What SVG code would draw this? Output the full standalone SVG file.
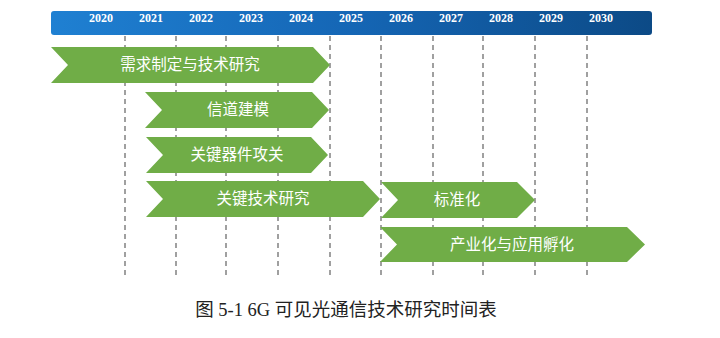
<svg xmlns="http://www.w3.org/2000/svg" width="720" height="338" viewBox="0 0 720 338">
<defs>
<linearGradient id="hdr" x1="0" y1="0" x2="1" y2="0">
<stop offset="0" stop-color="#1f80d2"/>
<stop offset="0.5" stop-color="#1566b5"/>
<stop offset="1" stop-color="#0c4a86"/>
</linearGradient>
<style>
.yr{font-family:"Liberation Serif",serif;font-weight:bold;font-size:12px;fill:#fff;text-anchor:middle}
.grid{stroke:#6e6e6e;stroke-width:1.3;stroke-dasharray:5,4;fill:none}
.chev{fill:#70ad47}
.lbl{font-family:"Noto Sans CJK SC",sans-serif;font-size:15.5px;fill:#fff;text-anchor:middle}
.cap{font-family:"Liberation Serif","Noto Sans CJK SC",serif;font-size:18.5px;fill:#222;text-anchor:middle}
</style>
</defs>
<rect width="720" height="338" fill="#fff"/>
<g id="header">
<rect x="51" y="11" width="601" height="24" rx="3" fill="url(#hdr)"/>
<text class="yr" x="101" y="22">2020</text>
<text class="yr" x="151" y="22">2021</text>
<text class="yr" x="201" y="22">2022</text>
<text class="yr" x="251" y="22">2023</text>
<text class="yr" x="301" y="22">2024</text>
<text class="yr" x="351" y="22">2025</text>
<text class="yr" x="401" y="22">2026</text>
<text class="yr" x="451" y="22">2027</text>
<text class="yr" x="501" y="22">2028</text>
<text class="yr" x="551" y="22">2029</text>
<text class="yr" x="601" y="22">2030</text>
</g>
<g id="connectors">
<line class="grid" x1="125" y1="36" x2="125" y2="278"/>
<line class="grid" x1="176" y1="36" x2="176" y2="278"/>
<line class="grid" x1="226" y1="36" x2="226" y2="278"/>
<line class="grid" x1="278" y1="36" x2="278" y2="278"/>
<line class="grid" x1="330" y1="36" x2="330" y2="278"/>
<line class="grid" x1="381" y1="36" x2="381" y2="278"/>
<line class="grid" x1="433" y1="36" x2="433" y2="278"/>
<line class="grid" x1="483" y1="36" x2="483" y2="278"/>
<line class="grid" x1="535" y1="36" x2="535" y2="278"/>
<line class="grid" x1="587" y1="36" x2="587" y2="278"/>
</g>
<g id="n1">
<polygon class="chev" points="51,47 313,47 330,65 313,83 51,83 68,65"/>
<text class="lbl" x="190" y="70">需求制定与技术研究</text>
</g>
<g id="n2">
<polygon class="chev" points="145,92 312,92 329,110 312,128 145,128 162,110"/>
<text class="lbl" x="238" y="115">信道建模</text>
</g>
<g id="n3">
<polygon class="chev" points="146,137 311,137 328,155 311,173 146,173 163,155"/>
<text class="lbl" x="237" y="160">关键器件攻关</text>
</g>
<g id="n4">
<polygon class="chev" points="146,181 363,181 380,199 363,217 146,217 163,199"/>
<text class="lbl" x="263" y="204">关键技术研究</text>
</g>
<g id="n5">
<polygon class="chev" points="381,182 517,182 535,200 517,218 381,218 398,200"/>
<text class="lbl" x="457" y="205">标准化</text>
</g>
<g id="n6">
<polygon class="chev" points="380,227 627,227 645,244.5 627,262 380,262 397,244.5"/>
<text class="lbl" x="512" y="250">产业化与应用孵化</text>
</g>
<g id="caption">
<text class="cap" x="346" y="316">图 5-1 6G 可见光通信技术研究时间表</text>
</g>
</svg>
